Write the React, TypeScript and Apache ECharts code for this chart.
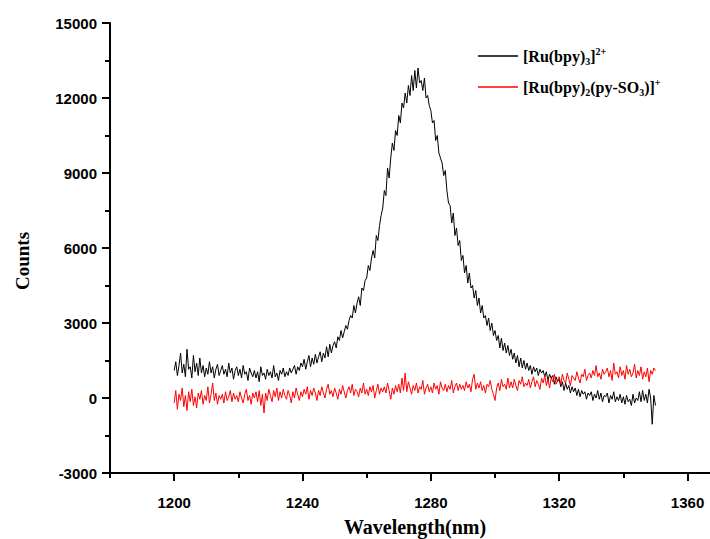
import React, { useEffect, useRef } from "react";
import * as echarts from "echarts";

// wavelength grid of the recorded spectra
const WL_START = 1200;
const WL_STEP = 0.5;

const SERIES_NAMES = ["[Ru(bpy)3]2+", "[Ru(bpy)2(py-SO3)]+"];

// [Ru(bpy)3]2+ counts, 1200 -> 1350 nm every 0.5 nm
const ruBpy3 = [
  1100, 1450, 900, 1300, 1800, 1000, 1350, 850, 1950, 1150,
  1250, 800, 1700, 1050, 1400, 900, 1600, 1000, 1300, 850,
  1200, 950, 1450, 1000, 1250, 800, 1150, 1350, 900, 1100,
  1300, 950, 1150, 850, 1400, 1000, 1200, 750, 1100, 1250,
  900, 1150, 800, 1300, 950, 1050, 700, 1200, 1000, 850,
  1100, 800, 1050, 650, 1250, 900, 1000, 750, 1150, 900,
  1050, 800, 1300, 850, 1000, 700, 1100, 950, 1200, 850,
  1050, 900, 1200, 1000, 1150, 1300, 950, 1250, 1100, 1400,
  1250, 1550, 1150, 1450, 1700, 1250, 1600, 1350, 1750, 1400,
  1650, 1850, 1450, 1800, 1600, 2050, 1650, 2150, 1800, 2100,
  2250, 2000, 2450, 2300, 2700, 2400, 2650, 2900, 2750, 3100,
  3300, 3200, 3700, 3400, 3800, 4050, 3700, 4400, 4300, 4700,
  4800, 5300, 5100, 5600, 5900, 5600, 6500, 6300, 6900, 7300,
  7600, 8300, 8100, 9200, 8800, 9600, 10200, 9900, 10700, 10500,
  11300, 11000, 11800, 11600, 12200, 11800, 12500, 12100, 12900, 12300,
  13100, 12400, 13200, 12600, 12700, 12300, 12800, 12000, 12100, 11700,
  11500, 11000, 11100, 10300, 10500, 9800, 9600, 9400, 8900, 9100,
  8300, 7800, 7700, 7000, 7400, 6500, 6800, 6100, 6300, 5500,
  5700, 5000, 5300, 4600, 5000, 4400, 4500, 4000, 4300, 3700,
  4000, 3400, 3700, 3200, 3300, 2900, 3200, 2700, 3000, 2500,
  2700, 2300, 2500, 2000, 2400, 1900, 2200, 1800, 2100, 1700,
  1950, 1550, 1800, 1400, 1700, 1250, 1600, 1200, 1500, 1150,
  1400, 1100, 1300, 950, 1250, 1050, 1200, 900, 1150, 1000,
  1100, 850, 1050, 700, 950, 800, 900, 550, 850, 650,
  750, 450, 650, 300, 600, 350, 500, 200, 450, 250,
  400, 100, 350, 50, 300, 150, 250, -50, 200, 100,
  250, -100, 150, 0, 300, -50, 200, -150, 100, 50,
  200, -200, 100, -50, 250, -150, 50, -100, 150, -200,
  50, -250, 100, -150, -50, -300, 150, -200, 0, -100,
  250, -150, 300, -100, 150, -200, 350, 0, -1050, 100,
  -300,
];

// [Ru(bpy)2(py-SO3)]+ counts, 1200 -> 1350 nm every 0.5 nm
const ruBpy2PySO3 = [
  -200, 300, -450, 150, -100, 400, -350, 100, -500, 250,
  -150, 350, -300, 50, -400, 200, -50, 300, -250, 100,
  -100, 450, -200, 150, 600, -100, 200, -250, 100, -50,
  150, -200, 250, -100, 50, 300, -150, 200, -50, 100,
  -150, 250, 0, -200, 150, 350, -100, 100, -250, 200,
  0, 250, -150, 300, -300, 150, -600, 200, -100, 350,
  100, -150, 300, 50, 400, -100, 250, 0, 350, 100,
  -50, 300, 100, -200, 250, 0, 400, 150, -100, 250,
  50, 350, 150, 450, -50, 300, 100, 400, 200, -100,
  300, 100, 450, 200, 0, 350, 550, 150, 300, 50,
  400, 200, -50, 350, 150, 500, 250, 0, 300, 450,
  200, 550, 100, 350, 250, 50, 400, 200, 600, 150,
  350, 100, 450, 250, 500, 0, 300, 550, 150, 400,
  250, 450, 200, 600, 300, -50, 400, 150, 500, 250,
  550, 200, 800, 300, 1000, 250, 650, 400, 150, 500,
  300, 600, 200, 450, 350, 700, 150, 400, 550, 250,
  450, 200, 600, 350, 500, 150, 650, 400, 300, 550,
  250, 500, 350, 700, 200, 450, 600, 300, 550, 350,
  500, 300, 650, 400, 550, 250, 750, 950, 350, 600,
  400, 650, 300, 500, 200, 550, 450, 700, 350, 150,
  -100, 400, 600, 300, 750, 450, 550, 350, 800, 400,
  650, 400, 750, 500, 300, 700, 550, 850, 450, 600,
  500, 750, 400, 650, 850, 450, 700, 550, 350, 800,
  600, 900, 500, 750, 400, 800, 650, 950, 550, 700,
  850, 550, 950, 700, 600, 1000, 750, 500, 900, 800,
  700, 1050, 800, 600, 950, 850, 1150, 700, 900, 1000,
  800, 1100, 900, 1300, 850, 1000, 750, 1150, 950, 1050,
  1200, 850, 1100, 700, 1400, 950, 1050, 800, 1250, 900,
  1100, 750, 1300, 950, 1150, 850, 1000, 1350, 800, 1100,
  900, 1250, 750, 1050, 850, 1200, 650, 1100, 950, 1200,
  1100,
];

const X_MIN = 1180;
const X_MAX = 1367;
const X_LABEL_TICKS = [1200, 1240, 1280, 1320, 1360];
const X_MINOR_TICKS = [1180, 1220, 1260, 1300, 1340];
const Y_MIN = -3000;
const Y_MAX = 15000;
const Y_INTERVAL = 3000;

const LEGEND_RICH: Record<string, string> = {
  "[Ru(bpy)3]2+": "{m|[Ru(bpy)}{sub|3}{m|]}{sup|2+}",
  "[Ru(bpy)2(py-SO3)]+": "{m|[Ru(bpy)}{sub|2}{m|(py-SO}{sub|3}{m|)]}{sup|+}",
};

const toPairs = (vals: number[]) =>
  vals.map((v, i) => [WL_START + i * WL_STEP, v]);

export default function App() {
  const ref = useRef<HTMLDivElement>(null);

  useEffect(() => {
    if (!ref.current) return;
    const chart = echarts.init(ref.current, undefined, { renderer: "svg" });
    const serif = "Liberation Serif";
    const sans = "Liberation Sans";
    const axisLineStyle = { color: "#000", width: 2 };
    const plain = (v: number) => String(v);

    chart.setOption({
      animation: false,
      backgroundColor: "#fff",
      grid: {
        left: 110,
        top: 23,
        right: 0,
        bottom: 66,
        containLabel: false,
        outerBoundsMode: "none",
      },
      legend: {
        show: true,
        orient: "vertical",
        left: 473,
        top: 41,
        itemWidth: 40,
        itemHeight: 1.5,
        itemGap: 11,
        icon: "rect",
        data: SERIES_NAMES,
        selectedMode: false,
        formatter: (name: string) => LEGEND_RICH[name] || name,
        textStyle: {
          color: "#000",
          rich: {
            m: { fontFamily: serif, fontWeight: "bold", fontSize: 16, lineHeight: 20, color: "#000" },
            sub: { fontFamily: serif, fontWeight: "bold", fontSize: 10, lineHeight: 8, verticalAlign: "bottom", color: "#000" },
            sup: { fontFamily: serif, fontWeight: "bold", fontSize: 10, lineHeight: 12, verticalAlign: "top", color: "#000" },
          },
        },
      },
      xAxis: [
        {
          type: "value",
          min: X_MIN,
          max: X_MAX,
          position: "bottom",
          axisLine: { show: true, onZero: false, lineStyle: axisLineStyle },
          axisTick: { show: true, inside: false, length: 8, customValues: X_LABEL_TICKS, lineStyle: axisLineStyle },
          axisLabel: {
            show: true,
            customValues: X_LABEL_TICKS,
            formatter: plain,
            color: "#000",
            fontFamily: sans,
            fontWeight: "bold",
            fontSize: 15,
            margin: 22,
          },
          splitLine: { show: false },
          name: "Wavelength(nm)",
          nameLocation: "middle",
          nameGap: 44,
          nameTextStyle: { fontFamily: serif, fontWeight: "bold", fontSize: 20, color: "#000", padding: [0, 0, 0, 10] },
        },
        {
          type: "value",
          min: X_MIN,
          max: X_MAX,
          position: "bottom",
          axisLine: { show: false, onZero: false },
          axisTick: { show: true, inside: false, length: 5, customValues: X_MINOR_TICKS, lineStyle: axisLineStyle },
          axisLabel: { show: false },
          splitLine: { show: false },
        },
      ],
      yAxis: {
        type: "value",
        min: Y_MIN,
        max: Y_MAX,
        interval: Y_INTERVAL,
        axisLine: { show: true, onZero: false, lineStyle: axisLineStyle },
        axisTick: { show: true, inside: false, length: 8, lineStyle: axisLineStyle },
        minorTick: { show: true, splitNumber: 2, length: 5, lineStyle: axisLineStyle },
        axisLabel: {
          show: true,
          formatter: plain,
          color: "#000",
          fontFamily: sans,
          fontWeight: "bold",
          fontSize: 15,
          margin: 13,
        },
        splitLine: { show: false },
        minorSplitLine: { show: false },
      },
      graphic: [
        {
          type: "text",
          x: 22,
          y: 261,
          rotation: Math.PI / 2,
          style: {
            text: "Counts",
            fontFamily: serif,
            fontWeight: "bold",
            fontSize: 19,
            fill: "#000",
            align: "center",
            verticalAlign: "middle",
          },
        },
      ],
      series: [
        {
          name: SERIES_NAMES[0],
          type: "line",
          xAxisIndex: 0,
          data: toPairs(ruBpy3),
          showSymbol: false,
          symbol: "none",
          lineStyle: { color: "#000", width: 1 },
          itemStyle: { color: "#000" },
        },
        {
          name: SERIES_NAMES[1],
          type: "line",
          xAxisIndex: 0,
          data: toPairs(ruBpy2PySO3),
          showSymbol: false,
          symbol: "none",
          lineStyle: { color: "#ff0000", width: 1 },
          itemStyle: { color: "#ff0000" },
        },
      ],
    });

    return () => chart.dispose();
  }, []);

  return (
    <div
      ref={ref}
      style={{ position: "fixed", left: 0, top: 0, width: 710, height: 539, background: "#fff" }}
    />
  );
}
